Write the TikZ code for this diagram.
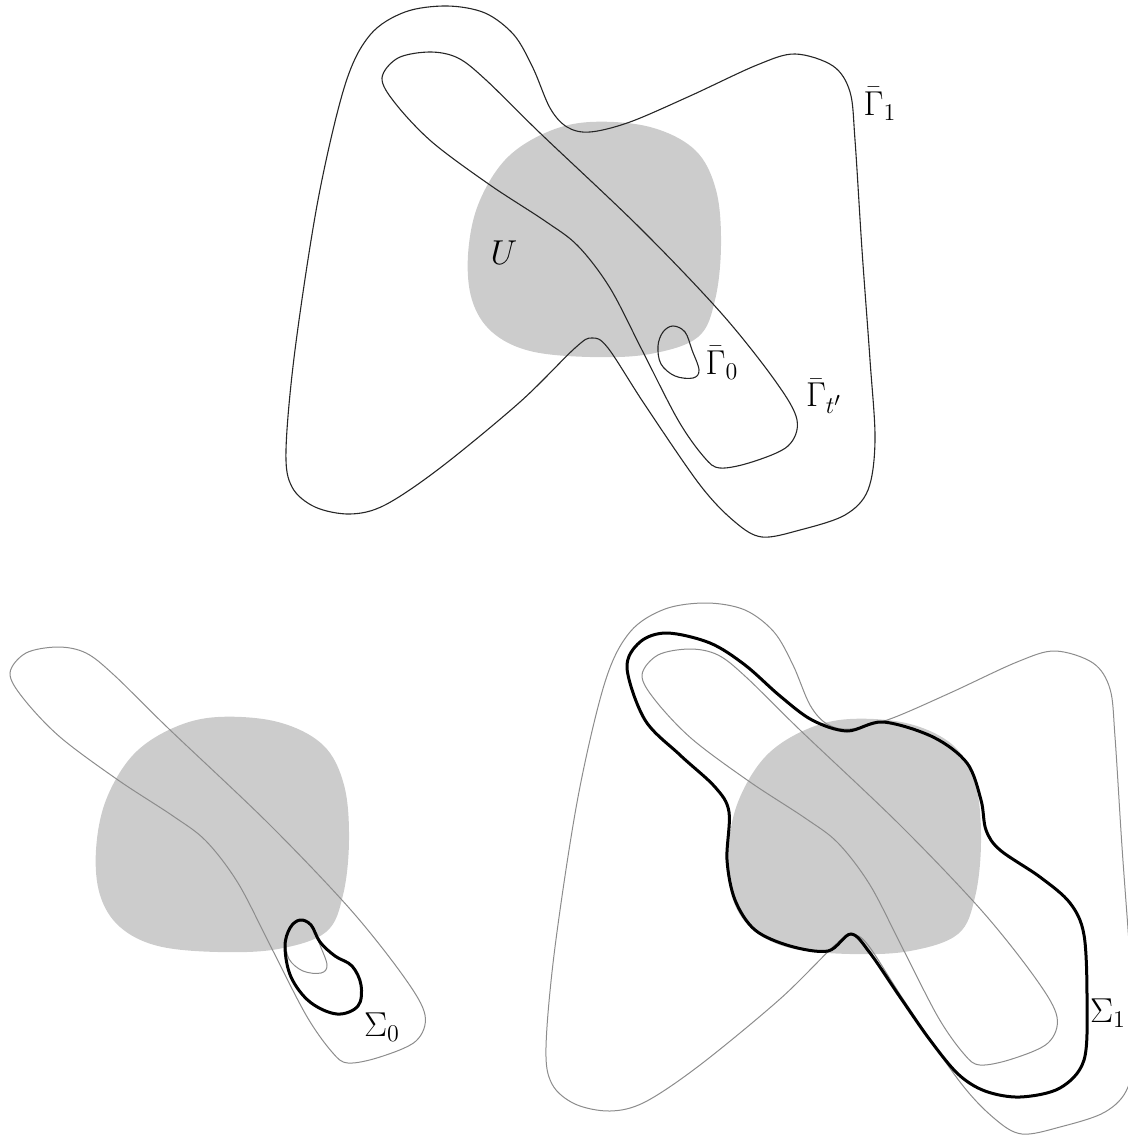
\documentclass[tikz,border=0pt]{standalone}
\usepackage{amsmath}
\usetikzlibrary{calc}
\definecolor{ufill}{RGB}{204,204,204}
\definecolor{faintline}{RGB}{140,140,140}

% closed curves, given in the coordinates of the top panel
\newcommand{\regionU}{plot[smooth cycle, tension=0.6] coordinates {
  (590,122) (650,127) (695,150) (716,190) (721,245) (715,300) (698,337)
  (650,354) (590,357) (530,351) (492,332) (472,300) (468,255) (478,205)
  (505,160) (545,133)}}
\newcommand{\curveGone}{plot[smooth cycle, tension=0.55] coordinates {
  (447,6) (485,13) (514,35) (533,68) (550,108) (567,127) (590,132)
  (630,122) (690,96) (757,65) (795,54) (833,66) (850,92) (855,140)
  (862,250) (870,360) (875,440) (868,490) (845,515) (800,530) (762,537)
  (735,522) (700,485) (645,405) (608,348) (592,338) (575,348) (520,402)
  (440,468) (385,505) (350,514) (315,507) (292,487) (286,450) (295,350)
  (318,200) (345,85) (370,35) (405,12)}}
\newcommand{\curveGt}{plot[smooth cycle, tension=0.55] coordinates {
  (430,52) (458,58) (486,80) (540,133) (640,228) (722,314) (776,382)
  (797,420) (788,446) (752,462) (720,468) (704,457) (678,420) (642,350)
  (610,288) (578,246) (545,221) (490,185) (432,142) (395,103) (382,78)
  (398,58)}}
\newcommand{\curveGzero}{plot[smooth cycle, tension=0.6] coordinates {
  (673,326) (685,332) (692,350) (699,370) (693,378) (675,376) (661,364)
  (658,346) (663,332)}}

\begin{document}
\begin{tikzpicture}[
  x=0.5pt, y=-0.5pt,
  every node/.style={font=\LARGE, inner sep=0pt},
  shade/.style={fill=ufill, draw=none},
  curve/.style={draw=black!85, line width=0.55pt},
  faint/.style={draw=faintline, line width=0.5pt},
  surface/.style={draw=black, line width=1.5pt}
]
\useasboundingbox (0,0) rectangle (1128,1139);

% top panel
\path[shade] \regionU;
\path[curve] \curveGone;
\path[curve] \curveGt;
\path[curve] \curveGzero;
\node (labU) at (504,253) {$U$};
\node (labGone) at (880,104) {$\bar\Gamma_1$};
\node (labGt) at (824,396) {$\bar\Gamma_{t'}$};
\node (labGzero) at (722,363) {$\bar\Gamma_0$};

% bottom left panel
\begin{scope}[shift={(-372,595)}]
  \path[shade] \regionU;
  \path[faint] \curveGt;
  \path[faint] \curveGzero;
\end{scope}
\path[surface] plot[smooth cycle, tension=0.6] coordinates {
  (300,920) (311,925) (320,942) (335,956) (352,966) (361,985) (358,1006)
  (337,1014) (310,1002) (291,977) (285,947) (290,928)};
\node (labSzero) at (382,1027) {$\Sigma_0$};

% bottom right panel
\begin{scope}[shift={(260,597)}]
  \path[shade] \regionU;
  \path[faint] \curveGone;
  \path[faint] \curveGt;
\end{scope}
\path[surface] plot[smooth cycle, tension=0.55] coordinates {
  (627,668) (640,642) (667,633) (710,643) (745,665) (780,696) (812,720)
  (847,731) (883,722) (933,737) (967,763) (981,800) (986,830) (1000,850)
  (1040,877) (1070,903) (1084,935) (1087,1000) (1084,1060) (1060,1088)
  (1020,1097) (985,1091) (958,1074) (930,1040) (900,997) (870,953)
  (851,934) (828,951) (790,946) (755,930) (735,900) (727,860) (729,812)
  (715,787) (680,755) (645,720)};
\node (labSone) at (1108,1013) {$\Sigma_1$};
\end{tikzpicture}
\end{document}
